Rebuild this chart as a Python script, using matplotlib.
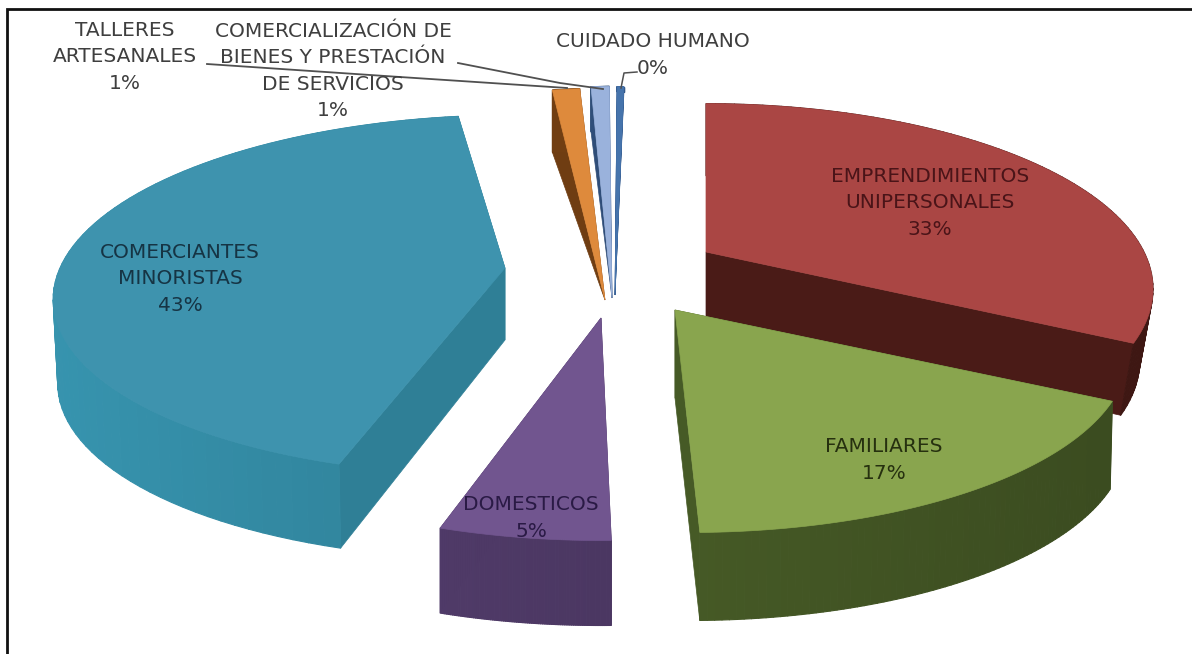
import numpy as np
import matplotlib
matplotlib.use('Agg')
import matplotlib.pyplot as plt
from matplotlib.collections import PolyCollection
from matplotlib.colors import to_rgb

# data, clockwise from 12 o'clock
categories = ['EMPRENDIMIENTOS\nUNIPERSONALES', 'FAMILIARES', 'DOMESTICOS', 'COMERCIANTES\nMINORISTAS',
              'TALLERES\nARTESANALES', 'COMERCIALIZACIÓN DE\nBIENES Y PRESTACIÓN\nDE SERVICIOS', 'CUIDADO HUMANO']
values = [32.7, 17.0, 5.1, 42.9, 1.2, 0.8, 0.3]

# look of each slice (in pixels of the figure)
top_colors = ['#AA4644', '#89A54E', '#71558F', '#3E93AE', '#DE8A3C', '#9AB2DC', '#4674AC']
side_colors = ['#4A1B17', '#465A26', '#4B3762', '#2F7F96', '#6F3D12', '#2F4D78', '#2F5486']
tips = [(706, 252), (675, 310), (601, 318), (505, 268), (605, 300), (612, 298), (615, 295)]
rx = [438, 442, 438, 445, 438, 438, 438]
ry = [178, 178, 178, 176, 254, 254, 250]
persp = [0.2, 0.2, 0.2, 0.15, 0.2, 0.2, 0.2]
skew = [0, -0.065, 0, 0.06, 0, 0.02, 0.043]
depth = [72, 88, 85, 84, 62, 45, 5]
tip_depth = [72, 88, 85, 72, 0, 0, 0]
bottom_scale = [0.97, 0.995, 1.0, 0.99, 1.0, 1.0, 1.0]
draw_order = [4, 5, 6, 3, 0, 2, 1]

label_xy = [(930, 203), (884, 460), (531, 518), (180, 279), (125, 57), (333, 71), (653, 55)]
label_colors = ['#4A1418', '#26300F', '#2A1A45', '#163444', '#3F3F3F', '#3F3F3F', '#3F3F3F']

fig = plt.figure(figsize=(11.92, 6.54), dpi=100)
ax = fig.add_axes([0, 0, 1, 1])
ax.set_xlim(0, 1192)
ax.set_ylim(654, 0)
ax.axis('off')


def project(angle, i, scale=1.0):
    d = 1 + persp[i] * np.cos(angle)
    x = rx[i] * np.sin(angle) / d
    y = -ry[i] * np.cos(angle) / d
    return tips[i][0] + (x - skew[i] * y) * scale, tips[i][1] + y


edges = np.radians(np.cumsum([0] + values) / np.sum(values) * 360)

for i in draw_order:
    angles = np.linspace(edges[i], edges[i + 1], 80)
    tx, ty = project(angles, i)
    bx, by = project(angles, i, bottom_scale[i])
    by = by + depth[i]
    side = np.array(to_rgb(side_colors[i]))

    # flat faces along the two cuts
    for k in [0, -1]:
        ax.fill([tips[i][0], tx[k], bx[k], tips[i][0]],
                [tips[i][1], ty[k], by[k], tips[i][1] + tip_depth[i]],
                color=side, lw=0.5)

    # outer wall in thin strips, a bit lighter towards the left
    strips = []
    strip_colors = []
    for k in range(len(angles) - 1):
        strips.append([(tx[k], ty[k]), (tx[k + 1], ty[k + 1]), (bx[k + 1], by[k + 1]), (bx[k], by[k])])
        shade = 1 + 0.16 * (tips[i][0] - tx[k]) / rx[i]
        strip_colors.append(np.clip(side * shade, 0, 1))
    ax.add_collection(PolyCollection(strips, facecolors=strip_colors, edgecolors=strip_colors, linewidths=0.8))

    ax.fill(np.r_[tips[i][0], tx], np.r_[tips[i][1], ty], color=top_colors[i], lw=0.5)

# leader lines
ax.plot([207, 400, 567], [64, 77, 88], color='#505050', lw=1.3)
ax.plot([458, 560, 603], [63, 83, 89], color='#505050', lw=1.3)
ax.plot([637, 624, 621], [72, 73, 88], color='#505050', lw=1.1)

# labels with the percentages taken from the values
for i, name in enumerate(categories):
    ax.text(label_xy[i][0], label_xy[i][1], name + '\n' + '%d%%' % round(values[i]),
            ha='center', va='center', fontsize=14.5, color=label_colors[i], linespacing=1.5)

# frame of the picture, left and top only
ax.plot([6.5, 6.5, 1192], [654, 9, 9], color='#111111', lw=2, solid_joinstyle='miter')

fig.savefig('out.png', dpi=100)
